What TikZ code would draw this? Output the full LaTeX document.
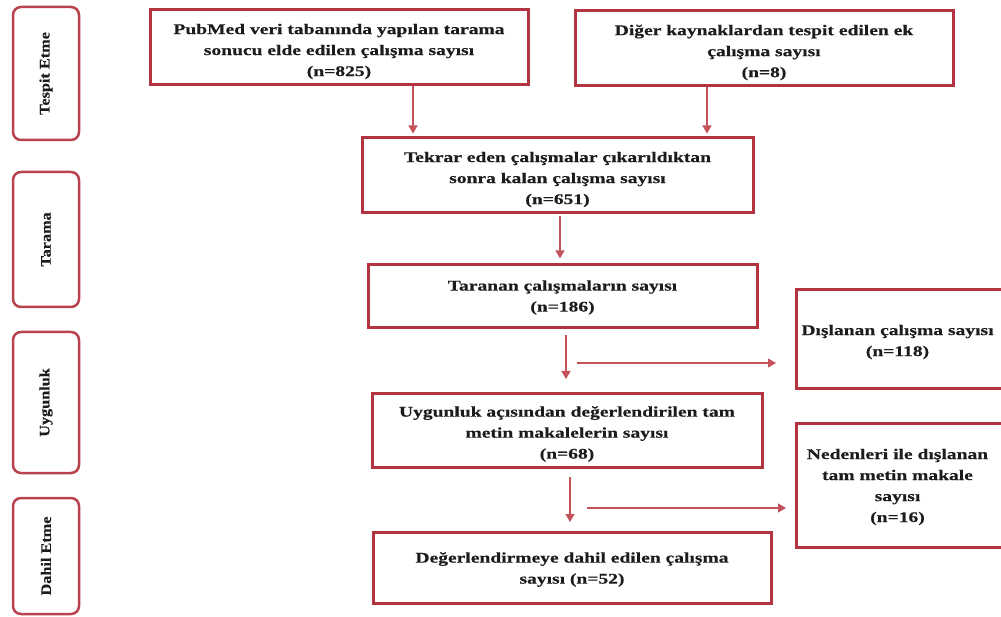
\documentclass[tikz,border=0pt]{standalone}
\usepackage{fontspec}
\setmainfont{Liberation Serif}
\newfontfamily\boxfont{Liberation Serif}[FakeStretch=1.32,FakeBold=0.4]
\newfontfamily\sidefont{Liberation Serif}[FakeStretch=1.12,FakeBold=0.3]
\usetikzlibrary{arrows.meta}
\definecolor{boxred}{RGB}{178,52,64}
\definecolor{arrred}{RGB}{196,82,90}
\definecolor{sidered}{RGB}{186,66,78}
\definecolor{txt}{RGB}{28,28,28}
\begin{document}
\begin{tikzpicture}[x=1pt,y=-1pt,
  mainbox/.style={draw=boxred,line width=3pt,inner sep=0pt},
  boxtext/.style={inner sep=0pt,align=center,text=txt,
    font=\boxfont\bfseries\fontsize{14.8}{21}\selectfont},
  sidebox/.style={draw=sidered,line width=2.5pt,rounded corners=8pt,inner sep=0pt,
    rotate=90,minimum height=66pt,text=txt,font=\sidefont\bfseries\fontsize{14.5}{17}\selectfont},
  arr/.style={draw=arrred,line width=1.2pt,-{Triangle[width=9pt,length=8pt]}}]
\useasboundingbox[fill=white] (0,0) rectangle (1001,617);

% side labels
\node[sidebox,minimum width=133pt] (s1) at (46,73.5) {Tespit Etme};
\node[sidebox,minimum width=135pt] (s2) at (46,239.5) {Tarama};
\node[sidebox,minimum width=141pt] (s3) at (46,402.5) {Uygunluk};
\node[sidebox,minimum width=116pt] (s4) at (46,556) {Dahil Etme};

% main boxes
\node[mainbox,minimum width=378pt,minimum height=75pt] (b1) at (339,47.5) {};
\node[mainbox,minimum width=378pt,minimum height=75pt] (b2) at (764,48.5) {};
\node[mainbox,minimum width=391pt,minimum height=75pt] (b3) at (557.5,175.5) {};
\node[mainbox,minimum width=389pt,minimum height=63pt] (b4) at (562.5,296.5) {};
\node[mainbox,minimum width=209pt,minimum height=98pt] (b5) at (900.5,339) {};
\node[mainbox,minimum width=390pt,minimum height=74pt] (b6) at (567,430) {};
\node[mainbox,minimum width=209pt,minimum height=124pt] (b7) at (900.5,485) {};
\node[mainbox,minimum width=398pt,minimum height=71pt] (b8) at (572,567.5) {};

% box texts
\node[boxtext] (t1) at ([yshift=-4pt]b1.center)
  {PubMed veri tabanında yapılan tarama\\sonucu elde edilen çalışma sayısı\\(n=825)};
\node[boxtext] (t2) at ([yshift=-4pt]b2.center)
  {Diğer kaynaklardan tespit edilen ek\\çalışma sayısı\\(n=8)};
\node[boxtext] (t3) at ([yshift=-4pt]b3.center)
  {Tekrar eden çalışmalar çıkarıldıktan\\sonra kalan çalışma sayısı\\(n=651)};
\node[boxtext] (t4) at ([yshift=-1pt]b4.center)
  {Taranan çalışmaların sayısı\\(n=186)};
\node[boxtext] (t5) at ([xshift=-3pt,yshift=-3pt]b5.center)
  {Dışlanan çalışma sayısı\\(n=118)};
\node[boxtext] (t6) at ([yshift=-4pt]b6.center)
  {Uygunluk açısından değerlendirilen tam\\metin makalelerin sayısı\\(n=68)};
\node[boxtext] (t7) at ([xshift=-3pt,yshift=-2pt]b7.center)
  {Nedenleri ile dışlanan\\tam metin makale\\sayısı\\(n=16)};
\node[boxtext] (t8) at ([yshift=-2pt]b8.center)
  {Değerlendirmeye dahil edilen çalışma\\sayısı (n=52)};

% arrow guide coordinates
\coordinate (x1) at (413,0);
\coordinate (x2) at (707,0);
\coordinate (x3) at (560,0);
\coordinate (v4s) at (566,335);
\coordinate (v4e) at (566,379);
\coordinate (h1s) at (577,363);
\coordinate (h1e) at (776,363);
\coordinate (v5s) at (570,477);
\coordinate (v5e) at (570,522);
\coordinate (h2s) at (587,508);
\coordinate (h2e) at (786,508);

% connectors
\draw[arr,shorten >=3pt] (b1.south -| x1) -- (b3.north -| x1);
\draw[arr,shorten >=3pt] (b2.south -| x2) -- (b3.north -| x2);
\draw[arr,shorten <=2pt,shorten >=5pt] (b3.south -| x3) -- (b4.north -| x3);
\draw[arr] (v4s) -- (v4e);
\draw[arr] (h1s) -- (h1e);
\draw[arr] (v5s) -- (v5e);
\draw[arr] (h2s) -- (h2e);
\end{tikzpicture}
\end{document}
